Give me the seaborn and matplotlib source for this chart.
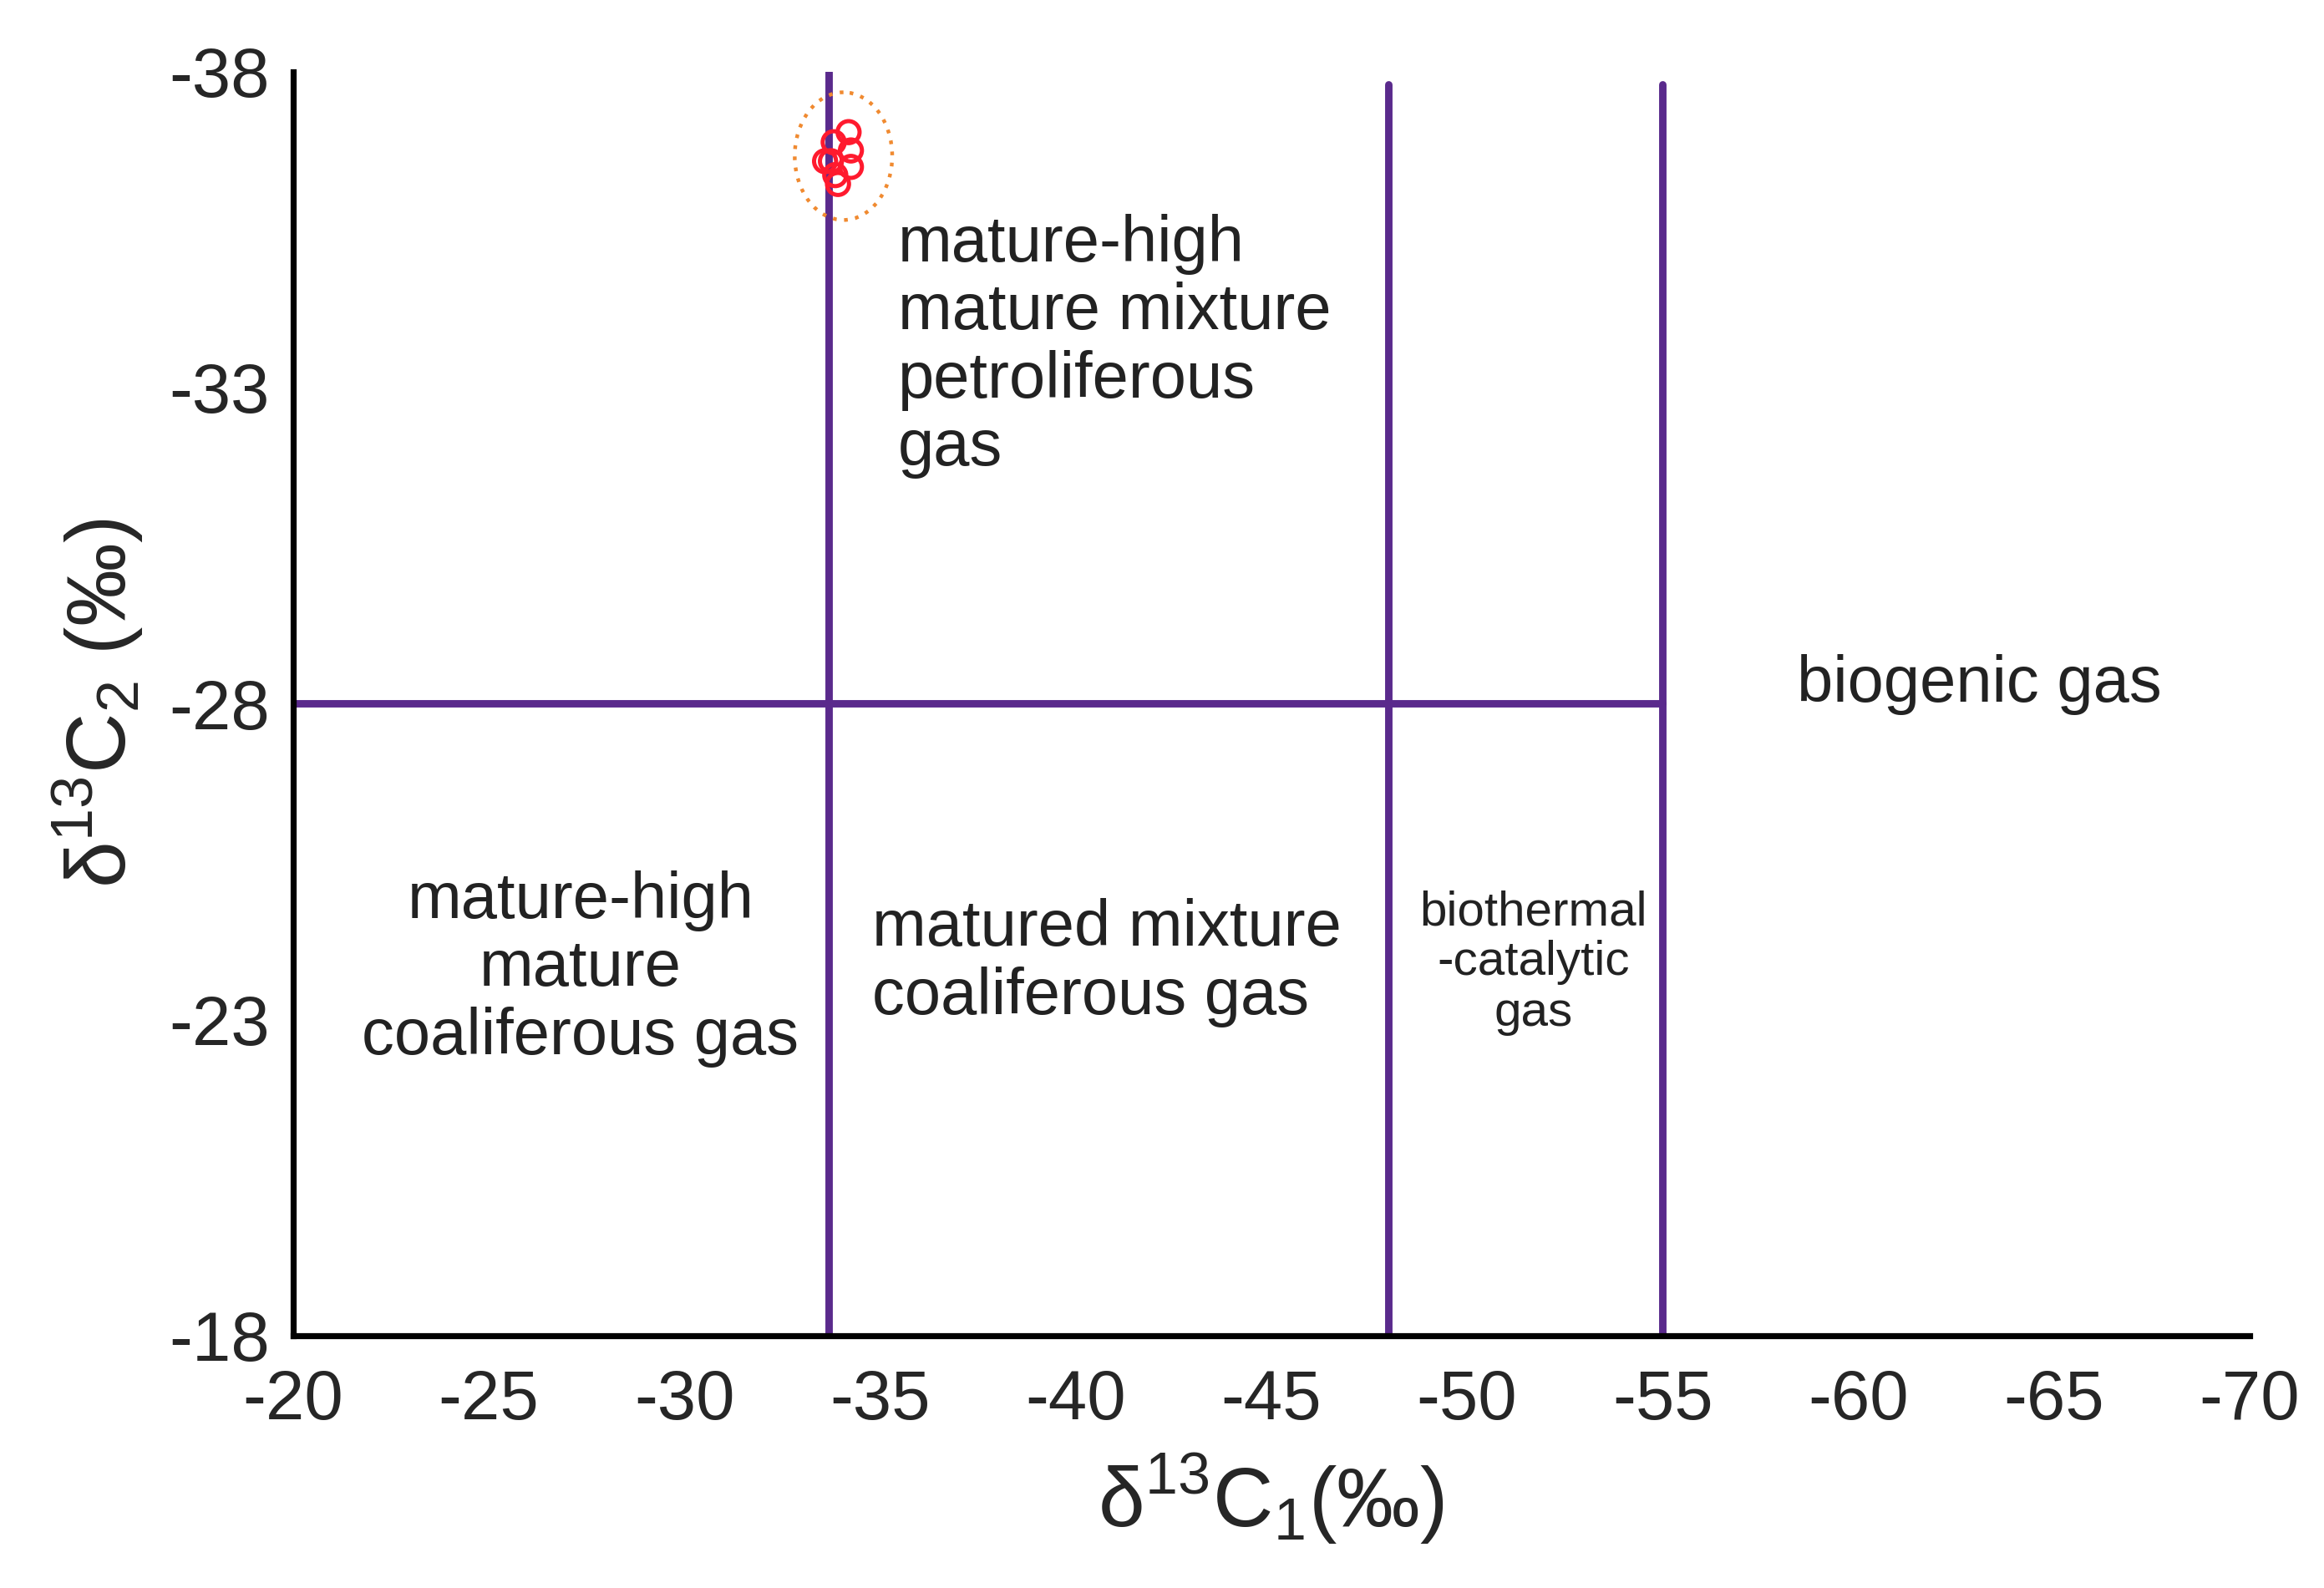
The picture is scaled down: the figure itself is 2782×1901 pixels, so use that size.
import matplotlib
matplotlib.use("Agg")
import matplotlib.pyplot as plt
import seaborn as sns
import pandas as pd
from matplotlib.patches import Ellipse

# sample points (d13C1, d13C2)
c1 = [-34.2, -33.82, -34.26, -33.75, -34.26, -33.86, -33.93, -33.6]
c2 = [-37.04, -36.88, -36.75, -36.58, -36.49, -36.36, -36.22, -36.58]

# classification boundaries
v_lines = [-33.7, -48.0, -55.0]
v_tops = [-38.0, -37.8, -37.8]
h_line = -28.0
h_end = -55.0

xticks = [-20, -25, -30, -35, -40, -45, -50, -55, -60, -65, -70]
yticks = [-38, -33, -28, -23, -18]

df = pd.DataFrame({'C1': c1, 'C2': c2})

sns.set_style('white')
plt.rcParams['font.family'] = ['Liberation Sans', 'DejaVu Sans']
plt.rcParams['mathtext.fontset'] = 'custom'
plt.rcParams['mathtext.rm'] = 'Liberation Sans'

fig = plt.figure(figsize=(13.91, 9.505), dpi=200)
ax = fig.add_axes([0.126, 0.159, 0.842, 0.796])

purple = '#5a2a8c'
for x, top in zip(v_lines, v_tops):
    ax.plot([x, x], [-18, top], color=purple, lw=3.2, zorder=2)
ax.plot([-20, h_end], [h_line, h_line], color=purple, lw=3.2, zorder=2)

sns.scatterplot(data=df, x='C1', y='C2', ax=ax, s=90, marker='o',
                facecolor='none', edgecolor='#ff1a2e', linewidth=1.8, zorder=4)
ax.add_patch(Ellipse((-34.07, -36.66), 2.49, 2.02, fill=False,
                     edgecolor='#f08a30', ls=(0, (1, 2)), lw=1.6, zorder=3))

ax.set_xlim(-20, -70)
ax.set_ylim(-18, -38)
ax.set_xticks(xticks)
ax.set_yticks(yticks)
ax.set_xticklabels([str(t) for t in xticks])
ax.set_yticklabels([str(t) for t in yticks])
ax.tick_params(axis='both', labelsize=30, direction='in', length=8, width=1.5, pad=10)
ax.tick_params(axis='x', pad=14)

for s in ['top', 'right']:
    ax.spines[s].set_visible(False)
for s in ['left', 'bottom']:
    ax.spines[s].set_linewidth(2.6)
    ax.spines[s].set_color('black')

ax.set_xlabel('δ$^{13}$C$_1$(‰)', fontsize=36, labelpad=8)
ax.set_ylabel('δ$^{13}$C$_2$ (‰)', fontsize=36, labelpad=10)

tc = '#222222'
fs = 28
ax.text(-35.46, -35.75, 'mature-high\nmature mixture\npetroliferous\ngas',
        fontsize=fs, ha='left', va='top', linespacing=1.15, color=tc)
ax.text(-63.1, -28.3, 'biogenic gas', fontsize=fs, ha='center', va='center', color=tc)
ax.text(-27.35, -23.8, 'mature-high\nmature\ncoaliferous gas', fontsize=fs,
        ha='center', va='center', linespacing=1.15, multialignment='center', color=tc)
ax.text(-34.8, -23.9, 'matured mixture\ncoaliferous gas', fontsize=fs,
        ha='left', va='center', linespacing=1.15, color=tc)
ax.text(-51.7, -23.9, 'biothermal\n-catalytic\ngas', fontsize=21,
        ha='center', va='center', linespacing=1.15, multialignment='center', color=tc)

fig.savefig('out.png', dpi=200)
